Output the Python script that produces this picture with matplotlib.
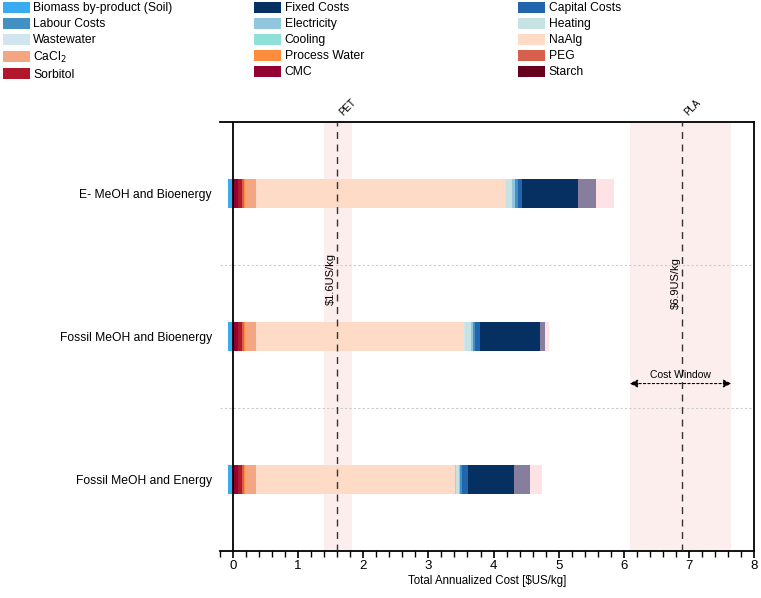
import matplotlib
matplotlib.use("Agg")
import matplotlib.pyplot as plt
from matplotlib.patches import Patch
from matplotlib.ticker import MultipleLocator
import numpy as np

plt.rcParams['font.family'] = ['Liberation Sans', 'DejaVu Sans']

scenarios = ["E- MeOH and Bioenergy", "Fossil MeOH and Bioenergy", "Fossil MeOH and Energy"]

biomass = [-0.08, -0.08, -0.08]
starch = [0.02, 0.02, 0.02]
cmc = [0.06, 0.06, 0.06]
sorbitol = [0.06, 0.06, 0.06]
peg = [0.03, 0.03, 0.03]
process_water = [0.01, 0.01, 0.01]
cacl2 = [0.17, 0.17, 0.17]
naalg = [3.83, 3.20, 3.06]
wastewater = [0.005, 0.005, 0.005]
cooling = [0.005, 0.005, 0.005]
heating = [0.10, 0.10, 0.05]
electricity = [0.04, 0.02, 0.02]
labour = [0.05, 0.04, 0.03]
capital = [0.05, 0.07, 0.09]
fixed = [0.86, 0.92, 0.71]
other_a = [0.29, 0.08, 0.24]
other_b = [0.27, 0.06, 0.19]

pet_price = 1.6
pet_window = [1.39, 1.83]
pla_price = 6.9
pla_window = [6.09, 7.65]

colors = {
    "Biomass by-product (Soil)": "#3aabf0",
    "Labour Costs": "#4391c4",
    "Wastewater": "#d1e5f0",
    "CaCl$_2$": "#f4a582",
    "Sorbitol": "#b2182b",
    "Fixed Costs": "#053061",
    "Electricity": "#92c5de",
    "Cooling": "#8fe0d8",
    "Process Water": "#fd8d3c",
    "CMC": "#930032",
    "Capital Costs": "#2166ac",
    "Heating": "#c6e2e2",
    "NaAlg": "#fddbc7",
    "PEG": "#d6604d",
    "Starch": "#67001f",
}

stack = [
    ("Starch", starch), ("CMC", cmc), ("Sorbitol", sorbitol), ("PEG", peg),
    ("Process Water", process_water), ("CaCl$_2$", cacl2), ("NaAlg", naalg),
    ("Wastewater", wastewater), ("Cooling", cooling), ("Heating", heating),
    ("Electricity", electricity), ("Labour Costs", labour),
    ("Capital Costs", capital), ("Fixed Costs", fixed),
    ("_a", other_a), ("_b", other_b),
]
extra_colors = {"_a": "#867e9c", "_b": "#fde3e6"}

fig = plt.figure(figsize=(7.61, 5.98), dpi=100)
ax = fig.add_axes([0.289, 0.079, 0.702, 0.717])

y = np.arange(len(scenarios))
h = 0.2

# cost windows
ax.axvspan(pet_window[0], pet_window[1], color="#fdeaea", alpha=0.8, lw=0, zorder=0)
ax.axvspan(pla_window[0], pla_window[1], color="#fdeaea", alpha=0.8, lw=0, zorder=0)

ax.barh(y, biomass, height=h, color=colors["Biomass by-product (Soil)"], lw=0, zorder=2)
left = np.zeros(len(scenarios))
for name, vals in stack:
    c = colors.get(name, extra_colors.get(name))
    ax.barh(y, vals, left=left, height=h, color=c, lw=0, zorder=2)
    left += np.array(vals)

ax.axvline(0, color="black", lw=1.3, zorder=3)
ax.axvline(pet_price, color="#333333", lw=1.0, ls=(0, (5, 4)), zorder=3)
ax.axvline(pla_price, color="#333333", lw=1.0, ls=(0, (5, 4)), zorder=3)

for g in [0.5, 1.5]:
    ax.axhline(g, color="#cccccc", lw=0.8, ls=(0, (2, 2)), zorder=1)

ax.set_xlim(-0.2, 8)
ax.set_ylim(2.5, -0.5)
ax.set_yticks(y)
ax.set_yticklabels(scenarios, fontsize=8.7)
ax.tick_params(axis="y", length=0, pad=5.8)
ax.xaxis.set_major_locator(MultipleLocator(1))
ax.xaxis.set_minor_locator(MultipleLocator(0.2))
ax.tick_params(axis="x", which="major", length=5, width=1.2, labelsize=9.5,
               direction="out", pad=2)
ax.tick_params(axis="x", which="minor", length=4, width=1.0, direction="out")
ax.spines["left"].set_visible(False)
for s in ["top", "right", "bottom"]:
    ax.spines[s].set_linewidth(1.3)
ax.set_xlabel("Total Annualized Cost [$US/kg]", fontsize=8.3, labelpad=2)

ax.text(pet_price, -0.53, "PET", rotation=45, fontsize=7, ha="left", va="bottom")
ax.text(pla_price, -0.53, "PLA", rotation=45, fontsize=7, ha="left", va="bottom")
ax.text(pet_price - 0.02, 0.6, "$1.6US/kg", rotation=90, fontsize=8, ha="right", va="center")
ax.text(pla_price - 0.02, 0.63, "$6.9US/kg", rotation=90, fontsize=8, ha="right", va="center")
ax.annotate("", xy=(pla_window[0], 1.33), xytext=(pla_window[1], 1.33),
            arrowprops=dict(arrowstyle="<|-|>", color="black", lw=0.8, ls=(0, (2, 2)),
                            mutation_scale=12, shrinkA=0, shrinkB=0))
ax.text((pla_window[0] + pla_window[1]) / 2, 1.27, "Cost Window", fontsize=7.5,
        ha="center", va="center")

cols = [
    ["Biomass by-product (Soil)", "Labour Costs", "Wastewater", "CaCl$_2$", "Sorbitol"],
    ["Fixed Costs", "Electricity", "Cooling", "Process Water", "CMC"],
    ["Capital Costs", "Heating", "NaAlg", "PEG", "Starch"],
]
xs = [0.004, 0.334, 0.681]
for cx, names in zip(xs, cols):
    handles = [Patch(facecolor=colors[n], edgecolor="none", label=n) for n in names]
    fig.legend(handles=handles, loc="upper left", bbox_to_anchor=(cx, 0.997),
               frameon=False, fontsize=8.75, handlelength=2.2, handleheight=1.0,
               labelspacing=0.28, handletextpad=0.3, borderaxespad=0, borderpad=0)

fig.savefig("out.png", dpi=100)
